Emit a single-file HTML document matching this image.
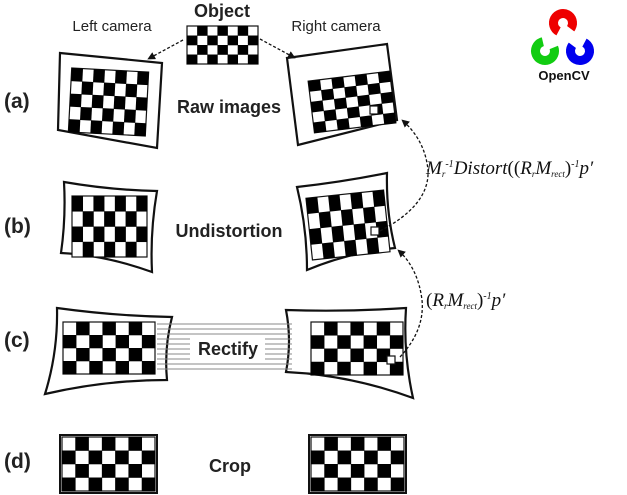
<!DOCTYPE html>
<html><head><meta charset="utf-8"><style>
html,body{margin:0;padding:0;background:#fff;width:627px;height:495px;overflow:hidden}
svg{display:block}
.l{font-family:"Liberation Sans",sans-serif;font-weight:bold;fill:#222}
.m{font-family:"Liberation Serif",serif;font-style:italic;fill:#111}
</style></head><body>
<svg width="627" height="495" viewBox="0 0 627 495" xmlns="http://www.w3.org/2000/svg">
<defs>
<marker id="ah" viewBox="0 0 10 10" refX="9" refY="5" markerWidth="6" markerHeight="6" orient="auto"><path d="M0,0L10,5L0,10z" fill="#111"/></marker>
</defs>
<g fill="none" stroke="#111" stroke-width="2.2">
<path d="M60,53 L162,63 L157,148 L58,130 Z"/>
<path d="M287,58 L387,44 L397,120 L298,145 Z"/>
<path d="M64,182 Q110,190 157,191 Q150,232 152,272 Q105,255 61,253 Q66,218 64,182 Z"/>
<path d="M297,187 Q342,182 387,173 Q386,212 395,248 Q350,252 307,270 Q307,228 297,187 Z"/>
<path d="M57,308 Q115,316 172,317 Q164,348 167,380 Q105,380 45,394 Q58,352 57,308 Z"/>
<path d="M286,310 Q346,312 406,308 Q403,353 413,398 Q350,375 286,372 Q292,341 286,310 Z"/>
</g>
<g stroke="#888" stroke-width="1">
<path d="M157,324H292M157,329H292M157,334H292M157,339H292M157,344H292M157,349H292M157,354H292M157,359H292M157,364H292M157,369H292"/>
</g>
<rect x="190" y="336" width="75" height="24" fill="#fff"/>
<g id="boards"></g>
<rect x="60" y="435" width="97" height="58" fill="none" stroke="#111" stroke-width="2"/>
<rect x="309" y="435" width="97" height="58" fill="none" stroke="#111" stroke-width="2"/>
<g fill="#fff" stroke="#111" stroke-width="1.2">
<rect x="370" y="106" width="8" height="8"/>
<rect x="371" y="227" width="8" height="8"/>
<rect x="387" y="356" width="8" height="8"/>
</g>
<g fill="none" stroke="#111" stroke-width="1.3" stroke-dasharray="3,2">
<path d="M183,40 L148,59" marker-end="url(#ah)"/>
<path d="M260,39 L295,58" marker-end="url(#ah)"/>
<path d="M380,231 Q430,205 428,170 Q425,140 402,120" marker-end="url(#ah)"/>
<path d="M400,357 Q425,330 422,300 Q418,268 398,250" marker-end="url(#ah)"/>
</g>
<text x="222" y="17" class="l" font-size="18" text-anchor="middle">Object</text>
<text x="112" y="31" font-family="Liberation Sans,sans-serif" font-size="15" fill="#222" text-anchor="middle">Left camera</text>
<text x="336" y="31" font-family="Liberation Sans,sans-serif" font-size="15" fill="#222" text-anchor="middle">Right camera</text>
<text x="4" y="108" class="l" font-size="21">(a)</text>
<text x="4" y="233" class="l" font-size="21">(b)</text>
<text x="4" y="347" class="l" font-size="21">(c)</text>
<text x="4" y="468" class="l" font-size="21">(d)</text>
<text x="229" y="113" class="l" font-size="18" text-anchor="middle">Raw images</text>
<text x="229" y="237" class="l" font-size="18" text-anchor="middle">Undistortion</text>
<text x="228" y="355" class="l" font-size="18" text-anchor="middle">Rectify</text>
<text x="230" y="472" class="l" font-size="18" text-anchor="middle">Crop</text>
<text x="426" y="174" class="m" font-size="19">M<tspan font-size="9" dy="3">r</tspan><tspan font-size="10" dy="-10">-1</tspan><tspan dy="7">Distort</tspan><tspan font-style="normal">((</tspan>R<tspan font-size="9" dy="3">r</tspan><tspan dy="-3">M</tspan><tspan font-size="9" dy="3">rect</tspan><tspan font-style="normal" dy="-3">)</tspan><tspan font-size="10" dy="-7">-1</tspan><tspan dy="7">p′</tspan></text>
<text x="426" y="306" class="m" font-size="19"><tspan font-style="normal">(</tspan>R<tspan font-size="9" dy="3">r</tspan><tspan dy="-3">M</tspan><tspan font-size="9" dy="3">rect</tspan><tspan font-style="normal" dy="-3">)</tspan><tspan font-size="10" dy="-7">-1</tspan><tspan dy="7">p′</tspan></text>
<g fill="none" stroke-width="9">
<circle cx="563" cy="23" r="9.5" stroke="#e00" stroke-dasharray="46 13.7" transform="rotate(118 563 23)"/>
<circle cx="545" cy="51" r="9.5" stroke="#1c1" stroke-dasharray="46 13.7" transform="rotate(-22 545 51)"/>
<circle cx="580" cy="51" r="9.5" stroke="#00e" stroke-dasharray="46 13.7" transform="rotate(-62 580 51)"/>
</g>
<text x="564" y="80" font-family="Liberation Sans,sans-serif" font-weight="bold" font-size="13" fill="#111" text-anchor="middle">OpenCV</text>
</svg>
<script>
var g=document.getElementById('boards'),ns='http://www.w3.org/2000/svg';
function board(x,y,w,h,blackFirst,rot,cols,rows){cols=cols||7;rows=rows||4;
var gg=document.createElementNS(ns,'g');if(rot)gg.setAttribute('transform','rotate('+rot+' '+(x+w/2)+' '+(y+h/2)+')');
var cw=w/cols,ch=h/rows;
var r=document.createElementNS(ns,'rect');r.setAttribute('x',x);r.setAttribute('y',y);r.setAttribute('width',w);r.setAttribute('height',h);r.setAttribute('fill','#fff');r.setAttribute('stroke','#111');r.setAttribute('stroke-width','1.2');gg.appendChild(r);
for(var i=0;i<rows;i++)for(var j=0;j<cols;j++){if(((i+j)%2==0)==blackFirst){var c=document.createElementNS(ns,'rect');c.setAttribute('x',x+j*cw);c.setAttribute('y',y+i*ch);c.setAttribute('width',cw+0.3);c.setAttribute('height',ch+0.3);c.setAttribute('fill','#000');gg.appendChild(c);}}
g.appendChild(gg);}
board(187,26,71,38,false,0);
board(70,70,77,64,true,3,7,5);
board(311,76,82,52,true,-7,7,5);
board(72,196,75,61,true,0);
board(309,194,78,62,true,-6);
board(63,322,92,52,false,0);
board(311,322,92,53,false,0);
board(62,437,93,54,false,0);
board(311,437,93,54,false,0);
</script>
</body></html>
